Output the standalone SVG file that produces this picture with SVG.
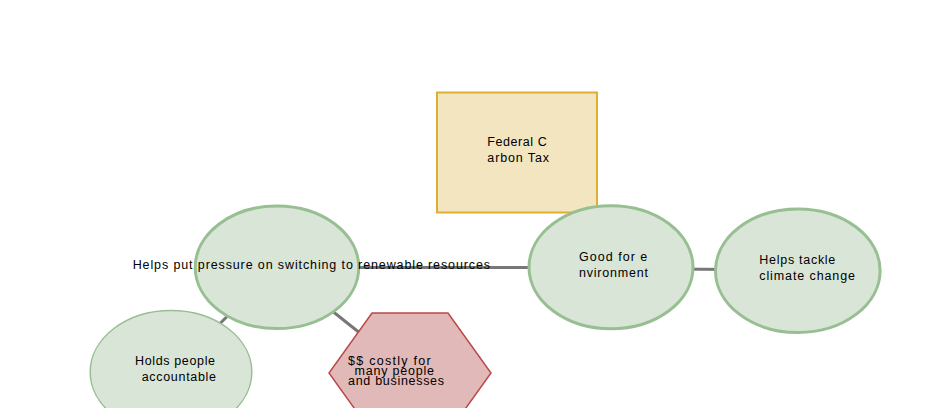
<svg xmlns="http://www.w3.org/2000/svg" width="933" height="408" viewBox="0 0 933 408">
<style>
.t{font-family:"Liberation Sans",Arial,sans-serif;font-size:12.5px;fill:#000}
.g{fill:#d9e5d7;stroke:#97bf92;stroke-width:3}
.c{stroke:#777;stroke-width:3;fill:none}
</style>
<rect width="933" height="408" fill="#fff"/>
<g id="connectors">
<line class="c" x1="277" y1="267.5" x2="611" y2="267.5"/>
<line class="c" x1="611" y1="268.5" x2="798" y2="270"/>
<line class="c" x1="277" y1="267" x2="171" y2="372"/>
<line class="c" x1="277" y1="267" x2="410" y2="373"/>
</g>
<g id="federal">
<rect x="437" y="92.5" width="160" height="120" fill="#f2e5c0" stroke="#ddb033" stroke-width="2"/>
<text class="t" x="487.3" y="146" textLength="59.5" lengthAdjust="spacing">Federal C</text>
<text class="t" x="487.3" y="161.5" textLength="61.7" lengthAdjust="spacing">arbon Tax</text>
</g>
<g id="pressure">
<ellipse class="g" cx="277" cy="267.3" rx="81.8" ry="61.3"/>
<text class="t" x="132.7" y="268.5" textLength="357.3" lengthAdjust="spacing">Helps put pressure on switching to renewable resources</text>
</g>
<g id="environment">
<ellipse class="g" cx="611" cy="267.3" rx="82" ry="61.5"/>
<text class="t" x="579" y="261" textLength="68.3" lengthAdjust="spacing">Good for e</text>
<text class="t" x="579" y="276.5" textLength="69" lengthAdjust="spacing">nvironment</text>
</g>
<g id="climate">
<ellipse class="g" cx="797.8" cy="270.7" rx="82.3" ry="61.8"/>
<text class="t" x="759.3" y="264" textLength="76" lengthAdjust="spacing">Helps tackle</text>
<text class="t" x="759.3" y="279.5" textLength="95.7" lengthAdjust="spacing">climate change</text>
</g>
<g id="accountable">
<ellipse cx="171" cy="372" rx="80.8" ry="61.5" fill="#d9e5d7" stroke="#97bf92" stroke-width="1.5"/>
<text class="t" x="135" y="365" textLength="80" lengthAdjust="spacing">Holds people</text>
<text class="t" x="141.7" y="380.5" textLength="74.3" lengthAdjust="spacing">accountable</text>
</g>
<g id="costly">
<polygon points="372,313 448,313 491,373 448,433 372,433 329,373" fill="#e0b9b8" stroke="#b94a48" stroke-width="1.5"/>
<text class="t" x="348" y="365" textLength="82.7" lengthAdjust="spacing">$$ costly for</text>
<text class="t" x="354.5" y="374.5" textLength="79.5" lengthAdjust="spacing">many people</text>
<text class="t" x="348" y="384.5" textLength="96" lengthAdjust="spacing">and businesses</text>
</g>
</svg>
